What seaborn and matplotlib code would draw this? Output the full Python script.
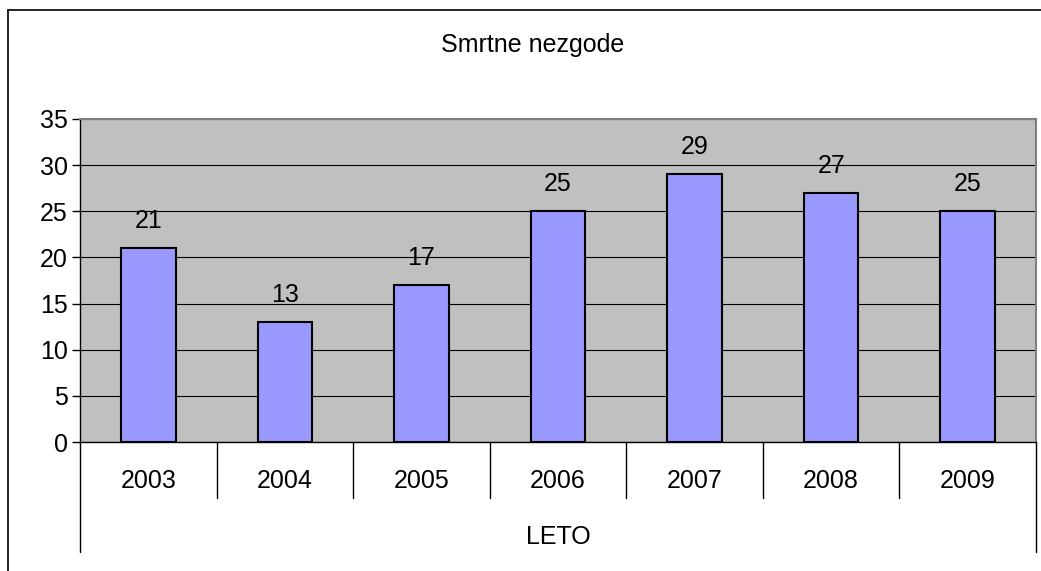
import numpy as np
import pandas as pd
import matplotlib
matplotlib.use('Agg')
import matplotlib.pyplot as plt
import matplotlib.transforms as mtransforms
from matplotlib.lines import Line2D
import seaborn as sns

# podatki
leta = ['2003', '2004', '2005', '2006', '2007', '2008', '2009']
nezgode = [21, 13, 17, 25, 29, 27, 25]
y_ticks = [0, 5, 10, 15, 20, 25, 30, 35]
naslov = 'Smrtne nezgode'
os_x = 'LETO'

df = pd.DataFrame({'leto': leta, 'nezgode': nezgode})

sns.set_style('white')
plt.rcParams['font.family'] = ['Liberation Sans', 'DejaVu Sans']
plt.rcParams['text.color'] = 'black'
plt.rcParams['ytick.color'] = 'black'
plt.rcParams['ytick.labelcolor'] = 'black'

W, H = 1041, 571
fig = plt.figure(figsize=(W / 100, H / 100), dpi=100)
ax = fig.add_axes([80 / W, 1 - 442 / H, (1036 - 80) / W, (442 - 119) / H])
ax.set_facecolor('#C0C0C0')

sns.barplot(data=df, x='leto', y='nezgode', color='#9999FF', saturation=1,
            edgecolor='black', linewidth=1.5, width=0.4, ax=ax)

ax.set_xlim(-0.5, len(leta) - 0.5)
ax.set_ylim(0, 35)
ax.set_yticks(y_ticks)
ax.set_axisbelow(True)
ax.grid(axis='y', color='black', linewidth=0.8)
ax.tick_params(axis='y', direction='out', length=5.8, width=1, pad=3,
               labelsize=18, colors='black', labelcolor='black', left=True)
ax.set_xticks([])
ax.set_xlabel('')
ax.set_ylabel('')

for s in ['left', 'bottom']:
    ax.spines[s].set_color('black')
    ax.spines[s].set_linewidth(1)
for s in ['top', 'right']:
    ax.spines[s].set_color('#808080')
    ax.spines[s].set_linewidth(1.5)

# oznake vrednosti
for i, v in enumerate(nezgode):
    ax.annotate(str(v), (i, v), xytext=(0, 14.4), textcoords='offset points',
                ha='center', va='baseline', fontsize=18, color='black')

# kategorijska os z dvema nivojema
trans = mtransforms.blended_transform_factory(ax.transData, ax.transAxes)
h_ax = 442 - 119
for i, l in enumerate(leta):
    ax.text(i, -(488 - 442) / h_ax, l, transform=trans, ha='center',
            va='baseline', fontsize=18, color='black')
for k in range(1, len(leta)):
    ax.plot([k - 0.5, k - 0.5], [0, -(498 - 442) / h_ax], transform=trans,
            color='black', linewidth=1, clip_on=False)
for xk in [-0.5, len(leta) - 0.5]:
    ax.plot([xk, xk], [0, -(552 - 442) / h_ax], transform=trans,
            color='black', linewidth=1, clip_on=False)
ax.text(0.5, -(544 - 442) / h_ax, os_x, transform=ax.transAxes,
        ha='center', va='baseline', fontsize=18, color='black')

fig.text(533 / W, 1 - 45 / H, naslov, ha='center', va='center', fontsize=18,
         color='black')

# okvir grafa
fig.add_artist(Line2D([8 / W, 8 / W], [0, 1 - 10 / H], color='black', linewidth=1.2))
fig.add_artist(Line2D([8 / W, 1], [1 - 10 / H, 1 - 10 / H], color='black', linewidth=1.2))

plt.savefig('out.png', dpi=100, facecolor='white')
